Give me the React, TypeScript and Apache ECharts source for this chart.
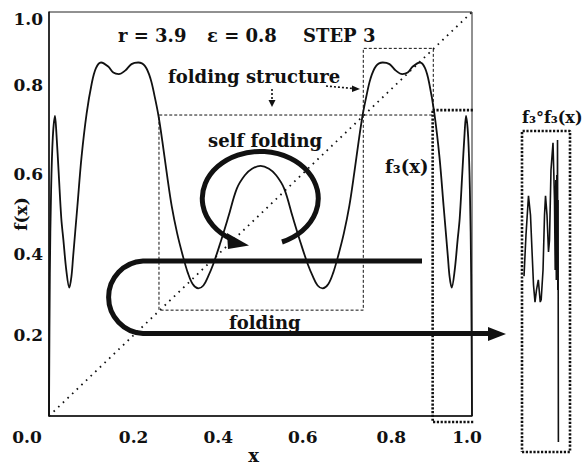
import React, { useEffect, useRef } from "react";
import * as echarts from "echarts";

// Sampled third-step map f3(x)
const f3X = [0, 0.002, 0.005, 0.009, 0.0142, 0.0175, 0.023, 0.029, 0.034, 0.041, 0.048, 0.053, 0.057, 0.067, 0.077, 0.089, 0.101, 0.111, 0.123, 0.14, 0.152, 0.165, 0.18, 0.195, 0.211, 0.227, 0.24, 0.25, 0.2585, 0.268, 0.278, 0.29, 0.303, 0.316, 0.328, 0.34, 0.353, 0.365, 0.376, 0.388, 0.404, 0.424, 0.444, 0.463, 0.48, 0.5, 0.52, 0.537, 0.556, 0.576, 0.596, 0.612, 0.624, 0.635, 0.647, 0.66, 0.672, 0.684, 0.697, 0.71, 0.722, 0.732, 0.7415, 0.75, 0.76, 0.773, 0.789, 0.805, 0.82, 0.835, 0.848, 0.86, 0.877, 0.889, 0.899, 0.911, 0.923, 0.933, 0.943, 0.947, 0.952, 0.959, 0.966, 0.971, 0.977, 0.9825, 0.9858, 0.991, 0.995, 0.998, 1.0];
const f3Y = [0, 0.35, 0.56, 0.69, 0.743, 0.7, 0.6, 0.49, 0.436, 0.36, 0.318, 0.345, 0.394, 0.518, 0.642, 0.749, 0.823, 0.861, 0.875, 0.865, 0.85, 0.846, 0.855, 0.871, 0.875, 0.866, 0.835, 0.79, 0.745, 0.68, 0.604, 0.52, 0.452, 0.398, 0.355, 0.326, 0.316, 0.323, 0.345, 0.375, 0.425, 0.493, 0.563, 0.596, 0.612, 0.619, 0.612, 0.596, 0.563, 0.493, 0.425, 0.375, 0.345, 0.323, 0.316, 0.326, 0.355, 0.398, 0.452, 0.52, 0.604, 0.68, 0.745, 0.79, 0.835, 0.866, 0.875, 0.871, 0.855, 0.846, 0.85, 0.865, 0.875, 0.861, 0.823, 0.749, 0.642, 0.518, 0.394, 0.345, 0.318, 0.36, 0.436, 0.49, 0.6, 0.7, 0.743, 0.69, 0.56, 0.35, 0];

// Composite f3∘f3(x) over the boxed window (inset units 0..1)
const insetX = [0.042, 0.083, 0.135, 0.177, 0.208, 0.24, 0.271, 0.302, 0.34, 0.38, 0.4, 0.438, 0.469, 0.49, 0.521, 0.552, 0.573, 0.604, 0.646, 0.677, 0.692, 0.704, 0.715, 0.725, 0.733, 0.74, 0.746, 0.752, 0.758];
const insetY = [0.548, 0.676, 0.798, 0.738, 0.629, 0.52, 0.467, 0.505, 0.536, 0.467, 0.475, 0.567, 0.738, 0.798, 0.738, 0.623, 0.66, 0.879, 0.963, 0.785, 0.567, 0.847, 0.536, 0.863, 0.598, 0.972, 0.505, 0.785, 0.031];

// Tick values
const xTicks = [0, 0.2, 0.4, 0.6, 0.8, 1.0];
const yTicks = [0.2, 0.4, 0.6, 0.8, 1.0];

// Reference lines and boxes, in data units
const diagonal = [[0, 0], [1, 1]];
const foldingFrame = [[0.906, 0.745], [0.26, 0.745], [0.26, 0.262], [0.743, 0.262], [0.743, 0.91], [0.9085, 0.91], [0.9085, 0.757]];
const edgeBox = [[0.907, 0.757], [1.022, 0.757], [1.022, -0.015], [0.907, -0.015], [0.907, 0.757]];
const insetBox = [[0, 0], [1, 0], [1, 1], [0, 1], [0, 0]];

const FONT = '"DejaVu Serif", "Liberation Serif", serif';
const INK = "#111";

echarts.graphic.registerShape(
  "selfFoldArc",
  echarts.graphic.extendPath("M 282 242 A 58 47 0 1 0 231 239", {})
);
echarts.graphic.registerShape(
  "foldTurn",
  echarts.graphic.extendPath("M 422 261 L 143 261 A 36.3 36.3 0 0 0 143 333.5 L 492 333.5", {})
);

function label(text: string, x: number, y: number, size: number) {
  return {
    type: "text",
    x,
    y,
    z: 20,
    style: {
      text,
      font: `bold ${size}px ${FONT}`,
      fill: INK,
      textAlign: "left",
      textVerticalAlign: "middle",
      align: "left",
      verticalAlign: "middle",
    },
  };
}

export default function App() {
  const ref = useRef<HTMLDivElement>(null);

  useEffect(() => {
    if (!ref.current) return;
    const chart = echarts.init(ref.current, null, { renderer: "svg" });

    const tickFont = { fontFamily: FONT, fontWeight: "bold" as const, fontSize: 17, color: INK };

    chart.setOption({
      animation: false,
      backgroundColor: "#fff",
      textStyle: { fontFamily: FONT, color: INK },
      grid: [
        {
          left: 49, top: 12, width: 423, height: 404,
          outerBoundsMode: "none", containLabel: false,
          show: true, borderColor: "#222", borderWidth: 1, backgroundColor: "transparent",
        },
        { left: 522, top: 131, width: 48, height: 321, outerBoundsMode: "none", containLabel: false },
      ],
      xAxis: [
        {
          type: "value",
          min: 0,
          max: 1,
          interval: 0.2,
          name: "x",
          nameLocation: "middle",
          nameGap: 30,
          nameMoveOverlap: false,
          nameTextStyle: { ...tickFont, fontSize: 18, padding: [0, 14, 0, 0] },
          axisLine: { show: true, lineStyle: { color: INK, width: 1.5 } },
          axisTick: { show: false },
          splitLine: { show: false },
          axisLabel: {
            margin: 12,
            ...tickFont,
            formatter: (v: number) => {
              const t = v.toFixed(1);
              if (t === "0.0") return "{l|" + t + "}";
              if (t === "1.0") return "{e|" + t + "}";
              if (t === "0.8") return "{r|" + t + "}";
              return "{n|" + t + "}";
            },
            rich: {
              n: { ...tickFont },
              l: { ...tickFont, padding: [0, 44, 0, 0] },
              e: { ...tickFont, padding: [0, 10, 0, 0] },
              r: { ...tickFont, padding: [0, 0, 0, 8] },
            },
          },
        },
        { type: "value", gridIndex: 1, min: 0, max: 1, show: false },
      ],
      yAxis: [
        {
          type: "value",
          min: 0,
          max: 1,
          interval: 0.2,
          name: "f(x)",
          nameLocation: "middle",
          nameGap: 20,
          nameRotate: 90,
          nameMoveOverlap: false,
          nameTextStyle: { ...tickFont, fontSize: 17 },
          axisLine: { show: true, lineStyle: { color: INK, width: 1.5 } },
          axisTick: { show: false },
          splitLine: { show: false },
          axisLabel: {
            margin: 6,
            ...tickFont,
            formatter: (v: number) => {
              const t = v.toFixed(1);
              if (t === "0.0") return "";
              if (t === "1.0") return "{t|" + t + "}";
              if (t === "0.8") return "{u|" + t + "}";
              return "{n|" + t + "}";
            },
            rich: {
              n: { ...tickFont },
              t: { ...tickFont, padding: [13, 0, 0, 0] },
              u: { ...tickFont, padding: [0, 0, 15, 0] },
            },
          },
        },
        { type: "value", gridIndex: 1, min: 0, max: 1, show: false },
      ],
      series: [
        {
          type: "line",
          data: diagonal,
          showSymbol: false,
          silent: true,
          lineStyle: { color: INK, width: 1.8, type: [1.6, 4.8], cap: "butt" },
          z: 2,
        },
        {
          type: "line",
          data: foldingFrame,
          showSymbol: false,
          silent: true,
          lineStyle: { color: INK, width: 1, type: [3, 2] },
          z: 2,
        },
        {
          type: "line",
          data: edgeBox,
          showSymbol: false,
          silent: true,
          clip: false,
          lineStyle: { color: INK, width: 2.6, type: [2.2, 1.6] },
          z: 4,
        },
        {
          type: "line",
          data: f3X.map((x, i) => [x, f3Y[i]]),
          showSymbol: false,
          smooth: 0.35,
          silent: true,
          lineStyle: { color: INK, width: 1.8 },
          z: 3,
        },
        {
          type: "line",
          xAxisIndex: 1,
          yAxisIndex: 1,
          data: insetBox,
          showSymbol: false,
          silent: true,
          clip: false,
          lineStyle: { color: INK, width: 2.6, type: [2.2, 1.6] },
        },
        {
          type: "line",
          xAxisIndex: 1,
          yAxisIndex: 1,
          data: insetX.map((x, i) => [x, insetY[i]]),
          showSymbol: false,
          silent: true,
          clip: false,
          lineStyle: { color: INK, width: 1.6, join: "miter" },
        },
      ],
      graphic: [
        label("r = 3.9", 118, 35, 18),
        label("ε = 0.8", 207, 35, 18),
        label("STEP 3", 303, 35, 18),
        label("folding structure", 168, 76, 18),
        label("self folding", 208, 140, 18),
        label("folding", 229, 322, 18),
        label("f₃(x)", 385, 166, 18),
        label("f₃°f₃(x)", 522, 117, 16),
        // dotted pointers under "folding structure"
        {
          type: "line",
          z: 20,
          shape: { x1: 272, y1: 89, x2: 272, y2: 101 },
          style: { stroke: INK, lineWidth: 1.6, lineDash: [2, 2] },
        },
        { type: "polygon", z: 20, shape: { points: [[268.5, 100], [275.5, 100], [272, 107]] }, style: { fill: INK } },
        {
          type: "line",
          z: 20,
          shape: { x1: 326, y1: 86, x2: 353, y2: 88.5 },
          style: { stroke: INK, lineWidth: 1.6, lineDash: [2, 2] },
        },
        { type: "polygon", z: 20, shape: { points: [[352, 85.5], [352, 92], [360, 89]] }, style: { fill: INK } },
        // circular "self folding" arrow
        { type: "selfFoldArc", z: 20, x: 0, y: 0, style: { stroke: INK, lineWidth: 5, fill: "none" } },
        { type: "polygon", z: 20, shape: { points: [[227, 233], [249, 245.5], [228, 249]] }, style: { fill: INK } },
        // U-shaped "folding" arrow
        { type: "foldTurn", z: 20, x: 0, y: 0, style: { stroke: INK, lineWidth: 5, fill: "none" } },
        { type: "polygon", z: 20, shape: { points: [[488, 327], [506, 334], [488, 341]] }, style: { fill: INK } },
      ],
    });

    return () => chart.dispose();
  }, []);

  return (
    <div
      ref={ref}
      style={{ position: "absolute", left: 0, top: 0, width: 582, height: 464, background: "#fff" }}
    />
  );
}
